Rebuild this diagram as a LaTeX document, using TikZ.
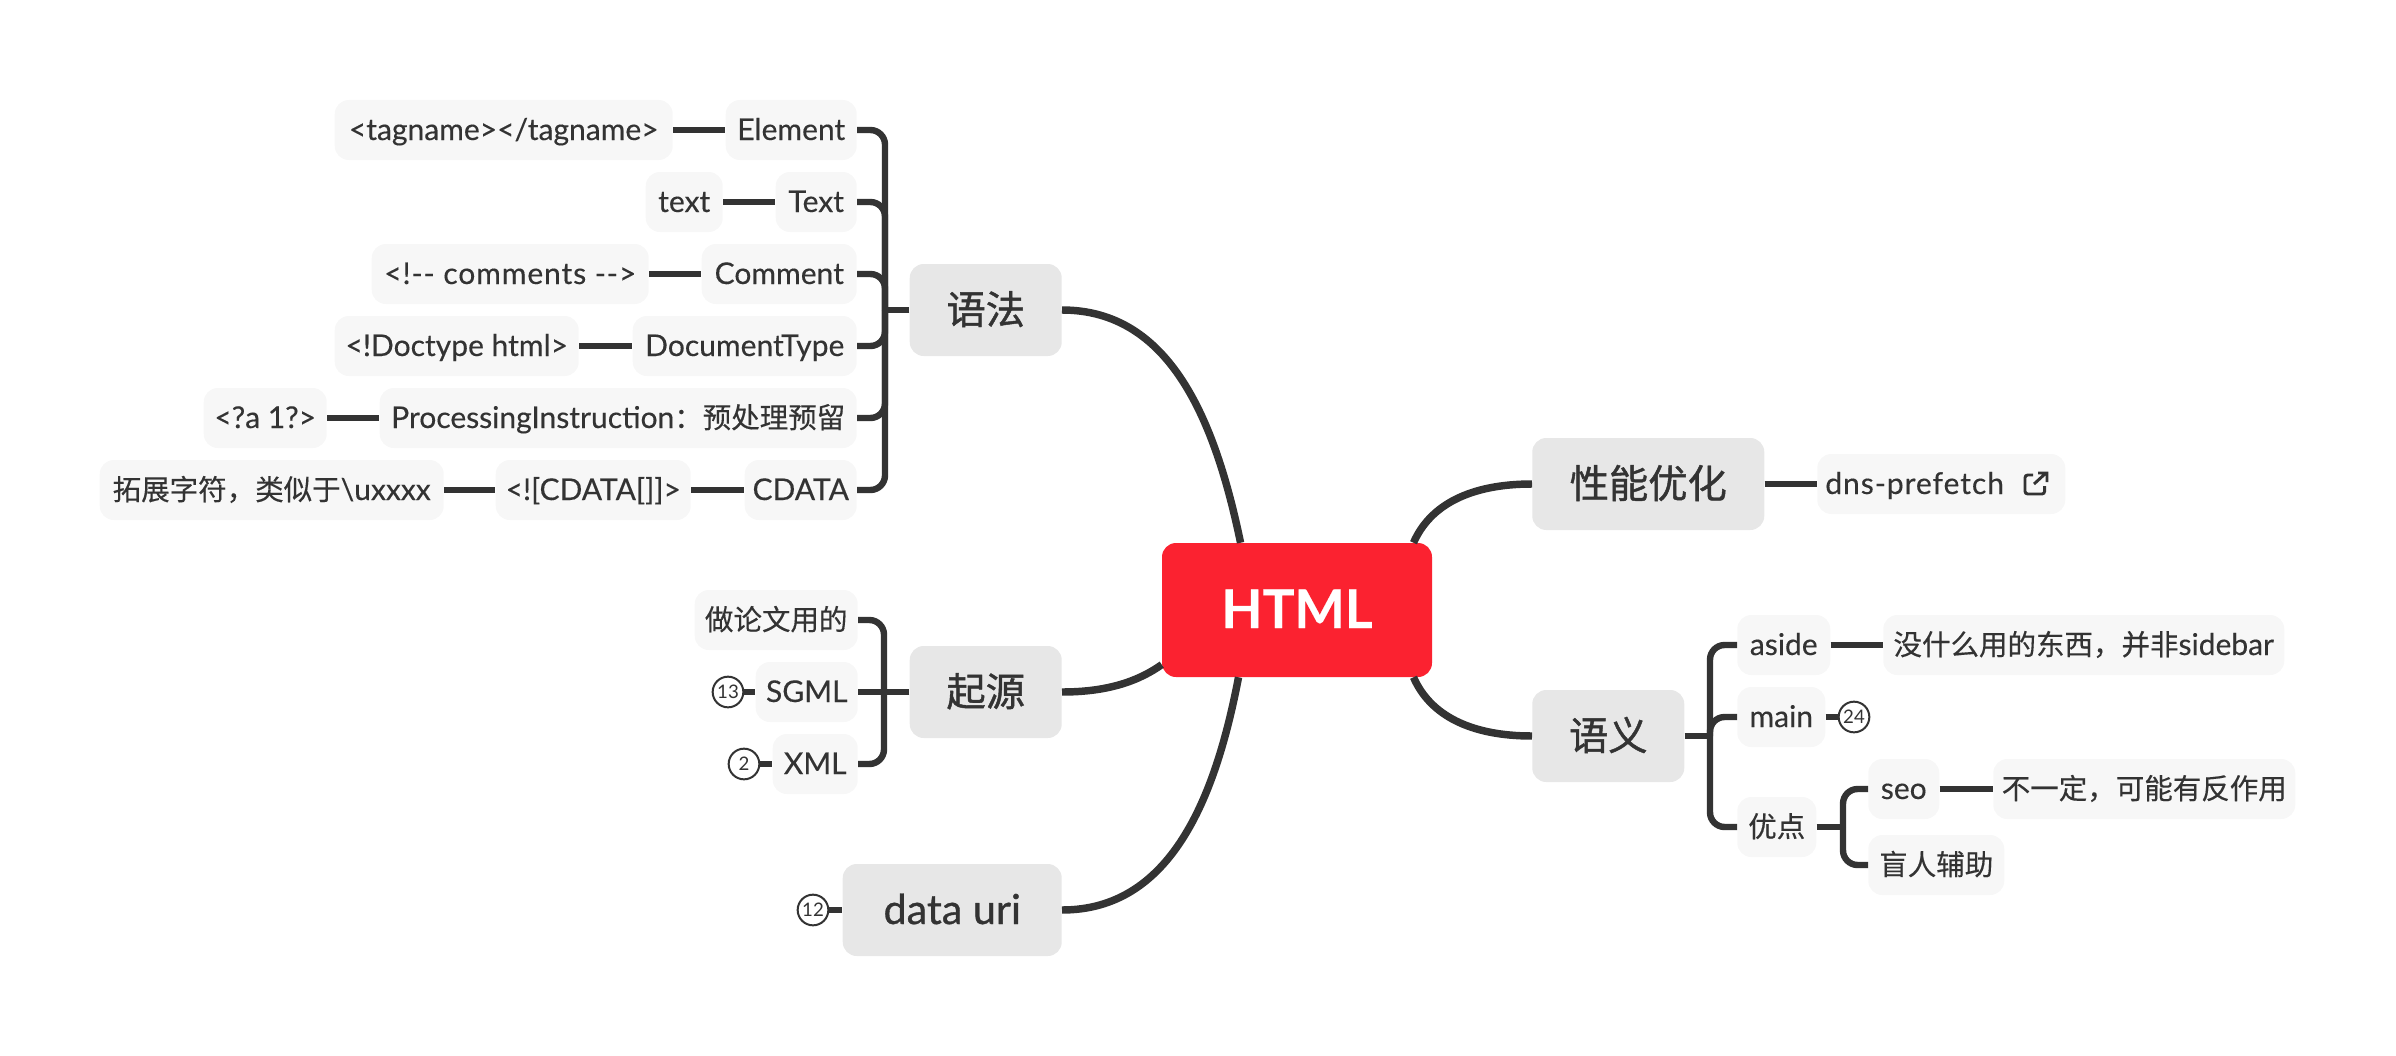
\documentclass[tikz,border=0pt]{standalone}
\usepackage{fontspec}
\setmainfont[FakeBold=0.3]{Lato}
\newfontfamily\thinfont{Lato}
\newfontfamily\heavyfont[FakeBold=0.8]{Lato}
\newfontfamily\cjk[Scale=0.95,FakeBold=0.35]{Noto Sans CJK SC}
\newfontfamily\heavycjk[Scale=0.95,FakeBold=1.1]{Noto Sans CJK SC}
\definecolor{inkgray}{HTML}{333333}
\definecolor{rootred}{HTML}{FB2230}
\definecolor{mainfill}{HTML}{E7E7E7}
\definecolor{leaffill}{HTML}{F7F7F7}
\tikzset{
  rootbox/.style={fill=rootred,text=white,rounded corners=10.5pt,inner sep=0pt,minimum width=202.5pt,minimum height=100.5pt,text height=32pt,text depth=5pt,font=\fontsize{40}{48}\selectfont\bfseries},
  mainbox/.style={fill=mainfill,text=inkgray,rounded corners=10.5pt,inner sep=0pt,minimum height=69pt,text height=25pt,text depth=4pt,minimum width=#1*0.75pt,font=\fontsize{31}{36}\selectfont},
  leafbox/.style={fill=leaffill,text=inkgray,rounded corners=10.5pt,inner sep=0pt,minimum height=45pt,text height=18pt,text depth=3pt,minimum width=#1*0.75pt,font=\fontsize{22.5}{26}\selectfont},
  badge/.style={circle,draw=inkgray,fill=white,line width=1.5pt,inner sep=0pt,minimum size=23pt,text=inkgray,font=\fontsize{14}{16}\selectfont\thinfont},
  link/.style={draw=inkgray,line width=4.8pt},
  curvelink/.style={draw=inkgray,line width=5.6pt},
  bracket/.style={link,rounded corners=11pt},
}
\begin{document}
\begin{tikzpicture}[x=0.75pt,y=0.75pt,yscale=-1,xscale=1]
\useasboundingbox (0,0) rectangle (2396,1056);

% Root
\node (root) [rootbox] at (1297,610) {HTML};

% Main topics
\node (syntax) [mainbox=152,anchor=east] at (1062,310) {\heavycjk 语法};
\node (origin) [mainbox=152,anchor=east] at (1062,692) {\heavycjk 起源};
\node (datauri) [mainbox=219,anchor=east] at (1062,910) {\heavyfont data uri};
\node (perf) [mainbox=232,anchor=west] at (1532,484) {\heavycjk 性能优化};
\node (semantic) [mainbox=152,anchor=west] at (1532,736) {\heavycjk 语义};

% Syntax branch
\node (element) [leafbox=131,anchor=east] at (857,130) {Element};
\node (text) [leafbox=81,anchor=east] at (857,202) {Text};
\node (comment) [leafbox=155,anchor=east] at (857,274) {Comment};
\node (doctype) [leafbox=224,anchor=east] at (857,346) {DocumentType};
\node (procins) [leafbox=477,anchor=east] at (857,418) {ProcessingInstruction{\cjk ：预处理预留}};
\node (cdata) [leafbox=112,anchor=east] at (857,490) {CDATA};
\node (tagname) [leafbox=338,anchor=east] at (673,130) {<tagname></tagname>};
\node (textval) [leafbox=77,anchor=east] at (723,202) {text};
\node (commentval) [leafbox=277,anchor=east] at (649,274) {\addfontfeature{LetterSpace=3}<!{-}{-} comments {-}{-}>};
\node (doctypeval) [leafbox=244,anchor=east] at (579,346) {<!Doctype html>};
\node (procval) [leafbox=123,anchor=east] at (327,418) {<?a 1?>};
\node (cdataval) [leafbox=195,anchor=east] at (691,490) {<![CDATA[]]>};
\node (extchar) [leafbox=344,anchor=east] at (444,490) {{\cjk 拓展字符，类似于}\textbackslash uxxxx};

% Origin branch
\node (paper) [leafbox=163,anchor=east] at (858,620) {\cjk 做论文用的};
\node (sgml) [leafbox=102,anchor=east] at (858,692) {SGML};
\node (xml) [leafbox=85,anchor=east] at (858,764) {XML};

% Performance branch
\node (dns) [leafbox=248,anchor=west] at (1817,484) {\addfontfeature{LetterSpace=3.2}dns-prefetch\kern40pt};

% Semantics branch
\node (aside) [leafbox=93,anchor=west] at (1737,645) {aside};
\node (asideval) [leafbox=401,anchor=west] at (1883,645) {{\cjk 没什么用的东西，并非}sidebar};
\node (mainel) [leafbox=88,anchor=west] at (1737,717) {main};
\node (merit) [leafbox=79,anchor=west] at (1737,827) {\cjk 优点};
\node (seo) [leafbox=71,anchor=west] at (1868,789) {seo};
\node (seoval) [leafbox=302,anchor=west] at (1993,789) {\cjk 不一定，可能有反作用};
\node (blind) [leafbox=136,anchor=west] at (1868,865) {\cjk 盲人辅助};

% Bracket joints
\coordinate (syntaxjoint) at (885,310);
\coordinate (originjoint) at (884,692);
\coordinate (semanticjoint) at (1710,736);
\coordinate (meritjoint) at (1843,827);

% Curves from the root
\draw [curvelink] (syntax.east) .. controls (1170,310) and (1215,420) .. (root.130);
\draw [curvelink] (origin.east) .. controls (1110,692) and (1140,680) .. (root.202);
\draw [curvelink] (datauri.east) .. controls (1170,910) and (1215,800) .. (root.229);
\draw [curvelink] (perf.west) .. controls (1470,484) and (1430,505) .. (root.30);
\draw [curvelink] (semantic.west) .. controls (1470,736) and (1430,715) .. (root.330);

% Brackets
\draw [bracket] (element.east) -| (syntaxjoint);
\draw [bracket] (text.east) -| (syntaxjoint);
\draw [bracket] (comment.east) -| (syntaxjoint);
\draw [bracket] (doctype.east) -| (syntaxjoint);
\draw [bracket] (procins.east) -| (syntaxjoint);
\draw [bracket] (cdata.east) -| (syntaxjoint);
\draw [link] (syntax.west) -- (syntaxjoint);
\draw [bracket] (paper.east) -| (originjoint);
\draw [bracket] (xml.east) -| (originjoint);
\draw [link] (origin.west) -- (sgml.east);
\draw [bracket] (aside.west) -| (semanticjoint);
\draw [bracket] (mainel.west) -| (semanticjoint);
\draw [bracket] (merit.west) -| (semanticjoint);
\draw [link] (semantic.east) -- (semanticjoint);
\draw [bracket] (seo.west) -| (meritjoint);
\draw [bracket] (blind.west) -| (meritjoint);
\draw [link] (merit.east) -- (meritjoint);

% Straight links
\draw [link] (tagname.east) -- (element.west);
\draw [link] (textval.east) -- (text.west);
\draw [link] (commentval.east) -- (comment.west);
\draw [link] (doctypeval.east) -- (doctype.west);
\draw [link] (procval.east) -- (procins.west);
\draw [link] (cdataval.east) -- (cdata.west);
\draw [link] (extchar.east) -- (cdataval.west);
\draw [link] (perf.east) -- (dns.west);
\draw [link] (aside.east) -- (asideval.west);
\draw [link] (seo.east) -- (seoval.west);

% Count badges
\node (sgmlcount) [badge] at (728,692) {13};
\node (xmlcount) [badge] at (744,764) {2};
\node (uricount) [badge] at (813,910) {12};
\node (maincount) [badge] at (1854,717) {24};
\draw [link] (sgmlcount.east) -- (sgml.west);
\draw [link] (xmlcount.east) -- (xml.west);
\draw [link] (uricount.east) -- (datauri.west);
\draw [link] (mainel.east) -- (maincount.west);

% Link icon
\draw [inkgray,line width=2.2pt,rounded corners=2pt] (2033,475) -- (2025,475) -- (2025,494) -- (2044.6,494) -- (2044.6,486);
\draw [inkgray,line width=2.2pt] (2034,484) -- (2046,473) (2038,473) -- (2047,473) -- (2047,482);
\end{tikzpicture}
\end{document}
